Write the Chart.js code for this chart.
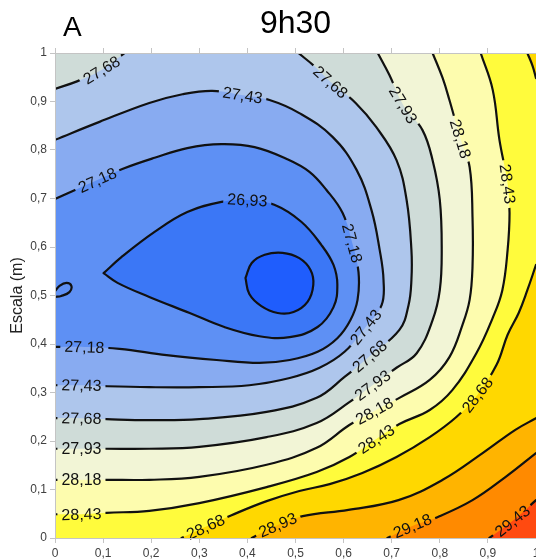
<!DOCTYPE html>
<html>
<head>
<meta charset="utf-8">
<script src="https://cdn.jsdelivr.net/npm/chart.js@4.4.1/dist/chart.umd.min.js"></script>
<style>
body { margin: 0; background: #fff; }
#caixa { width: 536px; height: 559px; }
</style>
</head>
<body>
<div id="caixa"><canvas id="grafico"></canvas></div>
<script>
var fonte = "'Liberation Sans', Arial, sans-serif";

// marcas dos eixos (0 a 1 m)
var marcas = ['0', '0,1', '0,2', '0,3', '0,4', '0,5', '0,6', '0,7', '0,8', '0,9', '1'];

// isolinhas, pares [x, y]
var c2668 = [[0.396,0.536],[0.409,0.567],[0.436,0.584],[0.473,0.588],[0.508,0.577],[0.531,0.553],[0.537,0.522],
  [0.525,0.487],[0.496,0.466],[0.463,0.464],[0.429,0.478],[0.404,0.503],[0.396,0.536]];
var c2693 = [[0.101,0.546],[0.138,0.579],[0.207,0.631],[0.275,0.672],[0.346,0.693],[0.400,0.697],[0.456,0.687],
  [0.512,0.652],[0.554,0.604],[0.579,0.563],[0.587,0.522],[0.579,0.476],[0.546,0.435],[0.488,0.414],[0.425,0.416],
  [0.352,0.435],[0.280,0.464],[0.196,0.497],[0.130,0.526],[0.101,0.546]];
var c2718 = [[0,0.699],[0.088,0.738],[0.140,0.761],[0.207,0.784],[0.275,0.804],[0.346,0.812],[0.415,0.806],
  [0.483,0.781],[0.529,0.755],[0.564,0.718],[0.598,0.670],[0.618,0.608],[0.631,0.548],[0.629,0.491],[0.614,0.449],
  [0.587,0.412],[0.546,0.384],[0.488,0.367],[0.425,0.361],[0.336,0.367],[0.232,0.377],[0.134,0.390],[0.061,0.394],[0,0.394]];
var c2718b = [[0,0.509],[0.0094,0.520],[0.024,0.526],[0.034,0.520],[0.030,0.507],[0.013,0.499],[0,0.497]];
var c2743 = [[0,0.821],[0.0925,0.858],[0.196,0.897],[0.265,0.915],[0.327,0.922],[0.390,0.913],[0.446,0.903],
  [0.508,0.876],[0.577,0.827],[0.627,0.759],[0.658,0.676],[0.675,0.594],[0.683,0.532],[0.679,0.480],[0.646,0.435],
  [0.602,0.384],[0.550,0.351],[0.488,0.330],[0.404,0.315],[0.300,0.311],[0.196,0.311],[0.103,0.313],[0.055,0.315],[0,0.315]];
var c2768a = [[0,0.926],[0.047,0.942],[0.0967,0.965],[0.1445,1]];
var c2768b = [[0.506,1],[0.539,0.973],[0.573,0.940],[0.625,0.897],[0.668,0.847],[0.710,0.779],[0.731,0.697],
  [0.741,0.594],[0.741,0.532],[0.735,0.480],[0.716,0.429],[0.654,0.375],[0.602,0.332],[0.544,0.289],[0.440,0.260],
  [0.300,0.245],[0.196,0.243],[0.107,0.245],[0.055,0.247],[0,0.247]];
var c2793 = [[0.671,1],[0.695,0.955],[0.724,0.893],[0.764,0.841],[0.785,0.779],[0.800,0.697],[0.804,0.594],
  [0.800,0.511],[0.785,0.449],[0.752,0.381],[0.710,0.351],[0.660,0.315],[0.612,0.280],[0.544,0.237],[0.440,0.208],
  [0.300,0.188],[0.196,0.184],[0.107,0.184],[0.055,0.184],[0,0.184]];
var c2818 = [[0.785,1],[0.806,0.948],[0.820,0.903],[0.843,0.823],[0.862,0.765],[0.868,0.662],[0.868,0.559],
  [0.862,0.491],[0.847,0.439],[0.820,0.373],[0.779,0.326],[0.716,0.289],[0.664,0.262],[0.612,0.233],[0.544,0.186],
  [0.440,0.151],[0.300,0.126],[0.196,0.120],[0.107,0.120],[0.055,0.120],[0,0.120]];
var c2843 = [[0.885,1],[0.910,0.924],[0.924,0.821],[0.941,0.730],[0.945,0.670],[0.941,0.594],[0.930,0.511],
  [0.910,0.454],[0.876,0.381],[0.826,0.305],[0.779,0.264],[0.716,0.235],[0.668,0.204],[0.612,0.167],[0.544,0.136],
  [0.440,0.105],[0.300,0.072],[0.196,0.056],[0.107,0.052],[0.055,0.049],[0,0.049]];
var c2868a = [[0.982,1],[0.993,0.973],[1,0.948]];
var c2868b = [[1,0.563],[0.982,0.511],[0.964,0.464],[0.941,0.419],[0.918,0.357],[0.878,0.295],[0.835,0.250],
  [0.779,0.208],[0.710,0.167],[0.639,0.134],[0.571,0.111],[0.508,0.097],[0.440,0.076],[0.367,0.047],[0.313,0.023],[0.263,0]];
var c2893 = [[1,0.247],[0.957,0.223],[0.889,0.175],[0.806,0.120],[0.714,0.078],[0.610,0.058],[0.515,0.045],[0.463,0.027],[0.409,0]];
var c2918 = [[1,0.175],[0.937,0.126],[0.868,0.078],[0.795,0.043],[0.743,0.025],[0.691,0]];
var c2943 = [[1,0.078],[0.951,0.035],[0.903,0]];

// cores das faixas, da mais fria para a mais quente
var cores = ['#1f5dfd', '#3b77f6', '#5e90f4', '#88abf1', '#aec6ec', '#cfdcd8', '#f2f5d6',
  '#fdfcae', '#fffb3c', '#ffd800', '#ffb400', '#ff8a00', '#ff4a10'];

var cantoBaixo = [[0, 0], [1, 0], [1, 1]];

// ordem de pintura = ordem da lista
var isolinhas = [
  { pts: c2743, nivel: '27,43', cor: cores[3], fecho: [], rot: [5, 14, 22] },
  { pts: c2718, nivel: '27,18', cor: cores[2], fecho: [], rot: [1, 11, 22] },
  { pts: c2718b, nivel: '27,18', cor: null, fecho: [], rot: [] },
  { pts: c2693, nivel: '26,93', cor: cores[1], fecho: [], rot: [5] },
  { pts: c2668, nivel: '26,68', cor: cores[0], fecho: [], rot: [] },
  { pts: c2768a, nivel: '27,68', cor: cores[5], fecho: [[0, 1]], rot: [2] },
  { pts: c2768b, nivel: '27,68', cor: cores[5], fecho: cantoBaixo, rot: [2, 11, 18] },
  { pts: c2793, nivel: '27,93', cor: cores[6], fecho: cantoBaixo, rot: [2, 11, 18] },
  { pts: c2818, nivel: '28,18', cor: cores[7], fecho: cantoBaixo, rot: [3, 12, 19] },
  { pts: c2843, nivel: '28,43', cor: cores[8], fecho: cantoBaixo, rot: [3, 12, 19] },
  { pts: c2868a, nivel: '28,68', cor: cores[9], fecho: [[1, 1]], rot: [] },
  { pts: c2868b, nivel: '28,68', cor: cores[9], fecho: [[1, 0]], rot: [5, 14] },
  { pts: c2893, nivel: '28,93', cor: cores[10], fecho: [[1, 0]], rot: [7] },
  { pts: c2918, nivel: '29,18', cor: cores[11], fecho: [[1, 0]], rot: [4] },
  { pts: c2943, nivel: '29,43', cor: cores[12], fecho: [[1, 0]], rot: [1] }
];

function rotulos(chart) {
  var ctx = chart.ctx, lista = [];
  ctx.save();
  ctx.font = '16px ' + fonte;
  isolinhas.forEach(function (iso, i) {
    var pts = chart.getDatasetMeta(i).data;
    iso.rot.forEach(function (k) {
      var a = pts[Math.max(k - 1, 0)], b = pts[Math.min(k + 1, pts.length - 1)];
      var ang = Math.atan2(b.y - a.y, b.x - a.x);
      if (ang > Math.PI / 2) ang -= Math.PI;
      if (ang < -Math.PI / 2) ang += Math.PI;
      lista.push({ x: pts[k].x, y: pts[k].y, ang: ang, txt: iso.nivel, w: ctx.measureText(iso.nivel).width });
    });
  });
  ctx.restore();
  return lista;
}

var pluginIso = {
  id: 'iso',
  beforeDatasetsDraw: function (chart) {
    var ctx = chart.ctx, a = chart.chartArea;
    var sx = chart.scales.x, sy = chart.scales.y;
    ctx.save();
    ctx.beginPath();
    ctx.rect(a.left, a.top, a.right - a.left, a.bottom - a.top);
    ctx.clip();
    ctx.fillStyle = cores[4];
    ctx.fillRect(a.left, a.top, a.right - a.left, a.bottom - a.top);
    isolinhas.forEach(function (iso, i) {
      if (!iso.cor) return;
      var line = chart.getDatasetMeta(i).dataset;
      line.updateControlPoints(a, 'x');
      ctx.beginPath();
      line.path(ctx);
      iso.fecho.forEach(function (p) {
        ctx.lineTo(sx.getPixelForValue(p[0]), sy.getPixelForValue(p[1]));
      });
      ctx.closePath();
      ctx.fillStyle = iso.cor;
      ctx.fill();
    });
    ctx.restore();

    // abre espaco nas linhas para os rotulos
    ctx.save();
    ctx.beginPath();
    ctx.rect(0, 0, chart.width, chart.height);
    rotulos(chart).forEach(function (r) {
      var c = Math.cos(r.ang), s = Math.sin(r.ang), hw = r.w / 2 + 4, hh = 8;
      [[-hw, -hh], [hw, -hh], [hw, hh], [-hw, hh]].forEach(function (p, j) {
        var px = r.x + p[0] * c - p[1] * s, py = r.y + p[0] * s + p[1] * c;
        if (j) ctx.lineTo(px, py); else ctx.moveTo(px, py);
      });
      ctx.closePath();
    });
    ctx.clip('evenodd');
  },
  afterDatasetsDraw: function (chart) {
    var ctx = chart.ctx;
    ctx.restore();
    ctx.save();
    ctx.font = '16px ' + fonte;
    ctx.fillStyle = '#111';
    ctx.textAlign = 'center';
    ctx.textBaseline = 'middle';
    rotulos(chart).forEach(function (r) {
      ctx.save();
      ctx.translate(r.x, r.y);
      ctx.rotate(r.ang);
      ctx.fillText(r.txt, 0, 1);
      ctx.restore();
    });
    ctx.restore();
  },
  afterDraw: function (chart) {
    var ctx = chart.ctx;
    ctx.save();
    ctx.font = '28px ' + fonte;
    ctx.fillStyle = '#000';
    ctx.textBaseline = 'middle';
    ctx.fillText('A', 63, 28);
    ctx.restore();
  }
};

var eixoCor = '#c4c4c4';

new Chart(document.getElementById('grafico').getContext('2d'), {
  type: 'scatter',
  data: {
    datasets: isolinhas.map(function (iso) {
      return {
        label: iso.nivel,
        data: iso.pts.map(function (p) { return { x: p[0], y: p[1] }; }),
        showLine: true,
        tension: 0.4,
        borderColor: '#111',
        borderWidth: 2.2,
        borderCapStyle: 'round',
        borderJoinStyle: 'round',
        pointRadius: 0,
        pointHoverRadius: 0
      };
    })
  },
  options: {
    responsive: true,
    maintainAspectRatio: false,
    animation: false,
    events: [],
    layout: { padding: 0 },
    plugins: {
      legend: { display: false },
      tooltip: { enabled: false },
      title: {
        display: true,
        text: '9h30',
        fullSize: false,
        color: '#000',
        font: { family: fonte, size: 32, weight: 'normal' },
        padding: { top: 5, bottom: 4.6 }
      }
    },
    scales: {
      x: {
        type: 'linear', min: 0, max: 1,
        ticks: { stepSize: 0.1, color: '#404040', font: { family: fonte, size: 12 },
          maxRotation: 0, callback: function (v, i) { return marcas[i]; } },
        grid: { drawOnChartArea: false, tickLength: 5, color: eixoCor },
        border: { color: eixoCor, z: 1 },
        afterFit: function (s) { s.height = 21; s.paddingRight = 0; s.paddingLeft = 0; }
      },
      x2: {
        type: 'linear', position: 'top', min: 0, max: 1,
        ticks: { stepSize: 0.1, display: false },
        grid: { drawOnChartArea: false, tickLength: 5, color: eixoCor },
        border: { color: eixoCor, z: 1 }
      },
      y: {
        type: 'linear', min: 0, max: 1,
        ticks: { stepSize: 0.1, color: '#404040', font: { family: fonte, size: 12 },
          callback: function (v, i) { return marcas[i]; } },
        grid: { drawOnChartArea: false, tickLength: 5, color: eixoCor },
        border: { color: eixoCor, z: 1 },
        title: { display: true, text: 'Escala (m)', color: '#222',
          font: { family: fonte, size: 16 }, padding: { top: 8, bottom: 4 } },
        afterFit: function (s) { s.width = 55; }
      }
    }
  },
  plugins: [pluginIso]
});
</script>
</body>
</html>
